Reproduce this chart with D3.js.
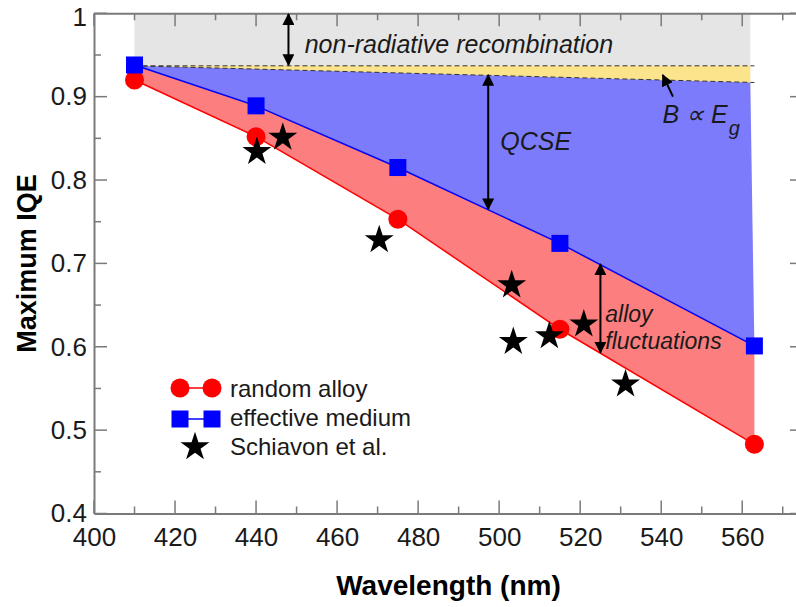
<!DOCTYPE html>
<html>
<head>
<meta charset="utf-8">
<script src="https://cdn.jsdelivr.net/npm/d3@7"></script>
<style>
  body { margin: 0; background: #fff; }
  text { font-family: "Liberation Sans", Arial, sans-serif; }
</style>
</head>
<body>
<div id="chart"></div>
<script>
// data
const wavelengths = [410, 440, 475, 515, 563]
const randomAlloy = [0.920, 0.852, 0.753, 0.621, 0.483]
const effectiveMedium = [0.938, 0.889, 0.815, 0.724, 0.601]
const schiavonX = [440.2, 446.6, 470.4, 503.1, 503.5, 512.4, 520.9, 531.2]
const schiavonY = [0.834, 0.851, 0.728, 0.674, 0.606, 0.613, 0.627, 0.555]
// reference levels (dashed lines) at left and right end of the shaded area
const bandX = [410, 562]
const nonRadLevel = [0.937, 0.937]
const bgapLevel = [0.937, 0.917]
const xTicks = [400, 420, 440, 460, 480, 500, 520, 540, 560]
const yTicks = [0.4, 0.5, 0.6, 0.7, 0.8, 0.9, 1]

const W = 796, H = 607
const x = d3.scaleLinear().domain([400, 575]).range([94, 803])
const y = d3.scaleLinear().domain([0.4, 1]).range([513.5, 13.3])

const svg = d3.select("#chart").append("svg")
    .attr("width", W).attr("height", H)

const defs = svg.append("defs")
defs.append("marker")
    .attr("id", "ah")
    .attr("viewBox", "0 0 10 10")
    .attr("refX", 9).attr("refY", 5)
    .attr("markerWidth", 6).attr("markerHeight", 6)
    .attr("markerUnits", "strokeWidth")
    .attr("orient", "auto-start-reverse")
  .append("path")
    .attr("d", "M0,0 L10,5 L0,10 z")
    .attr("fill", "#000")

const em = wavelengths.map((w, i) => [w, effectiveMedium[i]])
const ra = wavelengths.map((w, i) => [w, randomAlloy[i]])
const pts = arr => arr.map(d => [x(d[0]), y(d[1])])
const poly = arr => "M" + pts(arr).join("L") + "Z"

// gray: non-radiative recombination
svg.append("path")
    .attr("d", poly([[bandX[0], 1], [bandX[1], 1], [bandX[1], nonRadLevel[1]], [bandX[0], nonRadLevel[0]]]))
    .attr("fill", "#e5e5e5")
// yellow: B ~ Eg
svg.append("path")
    .attr("d", poly([[bandX[0], nonRadLevel[0]], [bandX[1], nonRadLevel[1]], [bandX[1], bgapLevel[1]], [bandX[0], bgapLevel[0]]]))
    .attr("fill", "#fbe48c")
// blue: QCSE
svg.append("path")
    .attr("d", poly([[bandX[0], bgapLevel[0]], [bandX[1], bgapLevel[1]]].concat(em.slice().reverse())))
    .attr("fill", "#7b7bfc")
// pink: alloy fluctuations
svg.append("path")
    .attr("d", poly(em.concat(ra.slice().reverse())))
    .attr("fill", "#fc7e7e")

// dashed reference lines
const dash = (lv) => svg.append("line")
    .attr("x1", x(bandX[0])).attr("y1", y(lv[0]))
    .attr("x2", x(bandX[1]) + 4).attr("y2", y(lv[1]))
    .attr("stroke", "#333").attr("stroke-width", 1)
    .attr("stroke-dasharray", "5,3")
dash(nonRadLevel)
dash(bgapLevel)

// axes frame
const axisColor = "#7a7a7a"
const gx = svg.append("g").attr("transform", `translate(0,${y(0.4)})`)
    .call(d3.axisBottom(x).tickValues(xTicks).tickSize(0).tickPadding(14))
const gxt = svg.append("g").attr("transform", `translate(0,${y(1)})`)
    .call(d3.axisTop(x).tickValues(xTicks).tickSize(0).tickFormat(""))
const gy = svg.append("g").attr("transform", `translate(${x(400)},0)`)
    .call(d3.axisLeft(y).tickValues(yTicks).tickSize(0).tickPadding(7)
      .tickFormat(d => d === 1 ? "1" : d3.format(".1f")(d)))
const gyr = svg.append("g").attr("transform", `translate(${x(575)},0)`)
    .call(d3.axisRight(y).tickValues(yTicks).tickSize(0).tickFormat(""))
;[gx, gxt, gy, gyr].forEach(g => {
  g.select(".domain").attr("stroke", axisColor).attr("stroke-width", 2)
  g.selectAll("text").attr("font-size", 26).attr("fill", "#1a1a1a")
    .attr("font-family", "'Liberation Sans', Arial, sans-serif")
})
// keep the "1" label inside the picture
gy.selectAll(".tick text").filter(d => d === 1).attr("dy", "0.45em")

// inward ticks (major + minor) on all four sides
const xMinor = d3.range(410, 575, 20)
const yMinor = d3.range(0.45, 1, 0.1)
const tickG = svg.append("g").attr("stroke", axisColor).attr("stroke-width", 1.5)
const tk = (vals, len, horiz) => vals.forEach(v => {
  if (horiz) {
    tickG.append("line").attr("x1", x(v)).attr("x2", x(v)).attr("y1", y(0.4)).attr("y2", y(0.4) - len)
    tickG.append("line").attr("x1", x(v)).attr("x2", x(v)).attr("y1", y(1)).attr("y2", y(1) + len)
  } else {
    tickG.append("line").attr("y1", y(v)).attr("y2", y(v)).attr("x1", x(400)).attr("x2", x(400) + len)
    tickG.append("line").attr("y1", y(v)).attr("y2", y(v)).attr("x1", x(575)).attr("x2", x(575) - len)
  }
})
tk(xTicks, 13, true)
tk(xMinor, 7, true)
tk(yTicks, 13, false)
tk(yMinor, 7, false)

// axis titles
svg.append("text")
    .attr("x", (x(400) + x(575)) / 2).attr("y", 595)
    .attr("text-anchor", "middle")
    .attr("font-size", 28).attr("font-weight", "bold")
    .text("Wavelength (nm)")
svg.append("text")
    .attr("transform", `translate(36,${(y(0.4) + y(1)) / 2}) rotate(-90)`)
    .attr("text-anchor", "middle")
    .attr("font-size", 27).attr("font-weight", "bold")
    .text("Maximum IQE")

// series lines
const line = d3.line().x(d => x(d[0])).y(d => y(d[1]))
svg.append("path").attr("d", line(ra)).attr("fill", "none")
    .attr("stroke", "#ff0000").attr("stroke-width", 1.5)
svg.append("path").attr("d", line(em)).attr("fill", "none")
    .attr("stroke", "#0000ff").attr("stroke-width", 1.5)

// markers
const sq = 17
svg.selectAll(".ra").data(ra).join("circle")
    .attr("cx", d => x(d[0])).attr("cy", d => y(d[1])).attr("r", 9.5)
    .attr("fill", "#ff0000")
svg.selectAll(".em").data(em).join("rect")
    .attr("x", d => x(d[0]) - sq / 2).attr("y", d => y(d[1]) - sq / 2)
    .attr("width", sq).attr("height", sq)
    .attr("fill", "#0000ff")
const star = d3.symbol().type(d3.symbolStar).size(260)
svg.selectAll(".star").data(schiavonX.map((v, i) => [v, schiavonY[i]])).join("path")
    .attr("transform", d => `translate(${x(d[0])},${y(d[1])})`)
    .attr("d", star).attr("fill", "#000")

// annotations: arrows
const arrow = (x1, y1, x2, y2, both) => svg.append("line")
    .attr("x1", x(x1)).attr("y1", y(y1)).attr("x2", x(x2)).attr("y2", y(y2))
    .attr("stroke", "#000").attr("stroke-width", 2)
    .attr("marker-end", "url(#ah)")
    .attr("marker-start", both ? "url(#ah)" : null)
arrow(448, 0.999, 448, 0.938, true)
arrow(497.3, 0.926, 497.3, 0.765, true)
arrow(525, 0.699, 525, 0.593, true)
arrow(542.9, 0.900, 540.4, 0.926, false)

const note = (xv, yv, txt, size) => svg.append("text")
    .attr("x", x(xv)).attr("y", y(yv))
    .attr("font-size", size || 25).attr("font-style", "italic")
    .attr("fill", "#1a1a1a")
    .text(txt)
note(452, 0.952, "non-radiative recombination")
note(500.3, 0.836, "QCSE")
note(526.2, 0.630, "alloy", 23)
note(526.2, 0.597, "fluctuations", 23)
const b = note(540.3, 0.868, "B \u221D E")
b.append("tspan").attr("font-size", 20).attr("dy", 12).attr("dx", 1).text("g")

// legend
const lg = svg.append("g")
const lx1 = 180, lx2 = 212
lg.append("line").attr("x1", lx1).attr("x2", lx2).attr("y1", 388).attr("y2", 388)
    .attr("stroke", "#ff0000").attr("stroke-width", 1.5)
lg.selectAll(".lc").data([lx1, lx2]).join("circle")
    .attr("cx", d => d).attr("cy", 388).attr("r", 9.5).attr("fill", "#ff0000")
lg.append("line").attr("x1", lx1).attr("x2", lx2).attr("y1", 419).attr("y2", 419)
    .attr("stroke", "#0000ff").attr("stroke-width", 1.5)
lg.selectAll(".ls").data([lx1, lx2]).join("rect")
    .attr("x", d => d - sq / 2).attr("y", 419 - sq / 2)
    .attr("width", sq).attr("height", sq).attr("fill", "#0000ff")
lg.append("path").attr("transform", "translate(195,447)").attr("d", star).attr("fill", "#000")
const legendLabels = ["random alloy", "effective medium", "Schiavon et al."]
lg.selectAll(".lt").data(legendLabels).join("text")
    .attr("x", 230).attr("y", (d, i) => 397 + i * 29)
    .attr("font-size", 24).attr("fill", "#1a1a1a")
    .text(d => d)
</script>
</body>
</html>
